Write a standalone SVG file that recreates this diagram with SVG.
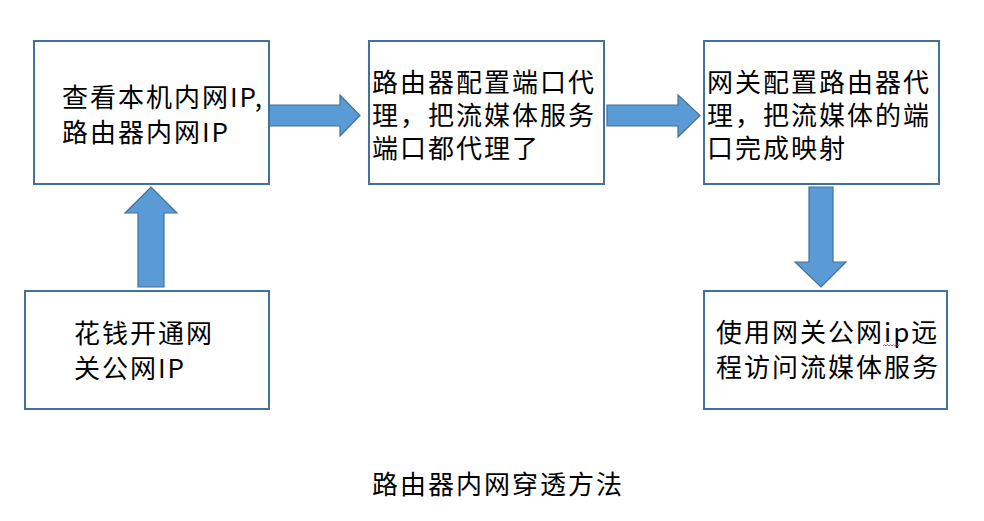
<svg xmlns="http://www.w3.org/2000/svg" width="984" height="521" viewBox="0 0 984 521">
<style>
.box{fill:#fff;stroke:#41719C;stroke-width:2}
.arr{fill:#5B9BD5;stroke:#41719C;stroke-width:1.2}
.t{font-family:"Noto Sans CJK SC","Noto Sans",sans-serif;font-size:26px;letter-spacing:2px;fill:#000}
</style>
<rect width="984" height="521" fill="#fff"/>
<g id="connectors">
<polygon class="arr" points="269,105 340,105 340,95 360,115.5 340,136 340,126 269,126"/>
<polygon class="arr" points="607,105 678,105 678,95 700,115.5 678,137 678,126 607,126"/>
<polygon class="arr" points="809,187 833,187 833,262 846,262 821,287 795,262 809,262"/>
<polygon class="arr" points="138,287 164,287 164,213 177,213 151,187 125,213 138,213"/>
</g>
<g id="node1">
<rect class="box" x="34" y="41" width="235" height="143"/>
<text class="t" x="62" y="107">查看本机内网IP,</text>
<text class="t" x="62" y="142">路由器内网IP</text>
</g>
<g id="node2">
<rect class="box" x="369" y="41" width="235" height="143"/>
<text class="t" x="372" y="92">路由器配置端口代</text>
<text class="t" x="372" y="125">理，把流媒体服务</text>
<text class="t" x="372" y="158">端口都代理了</text>
</g>
<g id="node3">
<rect class="box" x="704" y="41" width="235" height="143"/>
<text class="t" x="707" y="92">网关配置路由器代</text>
<text class="t" x="707" y="125">理，把流媒体的端</text>
<text class="t" x="707" y="158">口完成映射</text>
</g>
<g id="node4">
<rect class="box" x="704" y="291" width="243" height="118"/>
<text class="t" x="716" y="342">使用网关公网ip远</text>
<text class="t" x="716" y="377">程访问流媒体服务</text>
<path d="M883,346 l1.5,-1.5 l1.5,1.5 l1.5,-1.5 l1.5,1.5 l1.5,-1.5 l1.5,1.5 l1.5,-1.5 l1.5,1.5 l1.5,-1.5 l1.5,1.5 l1.5,-1.5" fill="none" stroke="#e02020" stroke-width="0.8"/>
</g>
<g id="node5">
<rect class="box" x="25" y="291" width="244" height="118"/>
<text class="t" x="74" y="343">花钱开通网</text>
<text class="t" x="74" y="378">关公网IP</text>
</g>
<g id="title">
<text class="t" x="372" y="494">路由器内网穿透方法</text>
</g>
</svg>
